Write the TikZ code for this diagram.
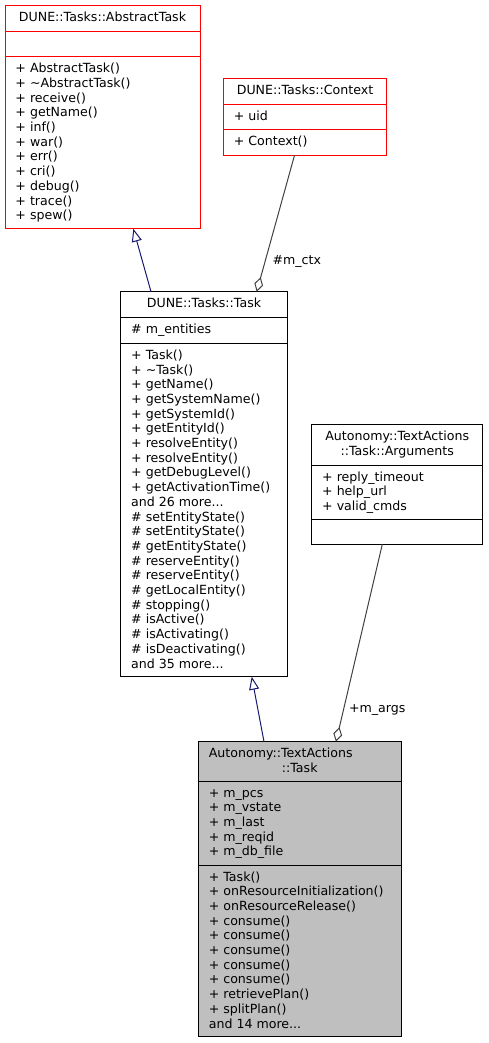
\documentclass[tikz,border=0pt]{standalone}
\usepackage{fontspec}
\setmainfont{DejaVu Sans}
\usetikzlibrary{arrows.meta}
\definecolor{dred}{HTML}{FF0000}
\definecolor{navyblue}{HTML}{191970}
\definecolor{grayedge}{HTML}{404040}
\definecolor{grayfill}{HTML}{BFBFBF}
\begin{document}
\begin{tikzpicture}[x=1pt,y=-1pt,
  every node/.style={inner sep=0pt, outer sep=0pt, font=\fontsize{12.6}{14.7}\selectfont},
  txt/.style={anchor=base west},
  ttl/.style={anchor=base},
  cls/.style={draw, line width=1pt, anchor=north west, rectangle, minimum width=#1},
  redcls/.style={cls=#1, draw=dred},
  divline/.style={line width=1pt},
  inh/.style={draw=navyblue, line width=1pt, -{Triangle[open, length=13pt, width=10pt]}},
  agg/.style={draw=grayedge, line width=1pt, -{Diamond[open, length=15pt, width=9pt]}},
]
\useasboundingbox (0,0) rectangle (488,1043);

% ---------- DUNE::Tasks::AbstractTask ----------
\node[redcls=195pt, minimum height=223pt] (abs) at (5,5.7) {};
\draw[divline, dred] (abs.west |- 0,31.7) -- (abs.east |- 0,31.7);
\draw[divline, dred] (abs.west |- 0,56.7) -- (abs.east |- 0,56.7);
\node[ttl] (abst) at (102.5,21.7) {DUNE::Tasks::AbstractTask};
\foreach \t [count=\i from 0] in {+ AbstractTask(), + \textasciitilde AbstractTask(), + receive(), + getName(), + inf(), + war(), + err(), + cri(), + debug(), + trace(), + spew()}
  \node[txt] (absm\i) at (15.5,72.7+\i*14.7) {\t};

% ---------- DUNE::Tasks::Context ----------
\node[redcls=163.4pt, minimum height=76.3pt] (ctx) at (223.3,79) {};
\draw[divline, dred] (ctx.west |- 0,104.3) -- (ctx.east |- 0,104.3);
\draw[divline, dred] (ctx.west |- 0,130) -- (ctx.east |- 0,130);
\node[ttl] (ctxt) at (305,95) {DUNE::Tasks::Context};
\node[txt] (ctxa) at (233.8,120.3) {+ uid};
\node[txt] (ctxm) at (233.8,146) {+ Context()};

% ---------- DUNE::Tasks::Task ----------
\node[cls=166.6pt, minimum height=385pt] (task) at (120.7,291.7) {};
\draw[divline] (task.west |- 0,317.7) -- (task.east |- 0,317.7);
\draw[divline] (task.west |- 0,343.3) -- (task.east |- 0,343.3);
\node[ttl] (taskt) at (204,307.7) {DUNE::Tasks::Task};
\node[txt] (taska) at (131.2,333.7) {\# m\_entities};
\foreach \t [count=\i from 0] in {+ Task(), + \textasciitilde Task(), + getName(), + getSystemName(), + getSystemId(), + getEntityId(), + resolveEntity(), + resolveEntity(), + getDebugLevel(), + getActivationTime(), and 26 more.{}.., \# setEntityState(), \# setEntityState(), \# getEntityState(), \# reserveEntity(), \# reserveEntity(), \# getLocalEntity(), \# stopping(), \# isActive(), \# isActivating(), \# isDeactivating(), and 35 more.{}..}
  \node[txt] (taskm\i) at (131.2,359.3+\i*14.7) {\t};

% ---------- Autonomy::TextActions::Task::Arguments ----------
\node[cls=171pt, minimum height=120pt] (args) at (311.7,424.3) {};
\draw[divline] (args.west |- 0,465) -- (args.east |- 0,465);
\draw[divline] (args.west |- 0,519) -- (args.east |- 0,519);
\node[ttl] (argst1) at (397.2,440.3) {Autonomy::TextActions};
\node[ttl] (argst2) at (397.2,455) {::Task::Arguments};
\foreach \t [count=\i from 0] in {+ reply\_timeout, + help\_url, + valid\_cmds}
  \node[txt] (argsa\i) at (322.2,481+\i*14.7) {\t};

% ---------- Autonomy::TextActions::Task ----------
\node[cls=202.7pt, minimum height=294.3pt, fill=grayfill] (ta) at (198.3,741.7) {};
\draw[divline] (ta.west |- 0,781) -- (ta.east |- 0,781);
\draw[divline] (ta.west |- 0,865) -- (ta.east |- 0,865);
\node[txt] (tat1) at (208.8,757.7) {Autonomy::TextActions};
\node[ttl] (tat2) at (299.7,772.4) {::Task};
\foreach \t [count=\i from 0] in {+ m\_pcs, + m\_vstate, + m\_last, + m\_reqid, + m\_db\_file}
  \node[txt] (taa\i) at (208.8,797+\i*14.7) {\t};
\foreach \t [count=\i from 0] in {+ Task(), + onResourceInitialization(), + onResourceRelease(), + consume(), + consume(), + consume(), + consume(), + consume(), + retrievePlan(), + splitPlan(), and 14 more.{}..}
  \node[txt] (tam\i) at (208.8,881+\i*14.7) {\t};

% ---------- connectors ----------
\draw[inh] ([xshift=30.3pt]task.north west) -- ([xshift=128.3pt]abs.south west);
\draw[agg] ([xshift=71.2pt]ctx.south west) -- ([xshift=136pt]task.north west);
\node[txt] (lctx) at (272.5,264.5) {\#m\_ctx};
\draw[inh] ([xshift=65.7pt]ta.north west) -- ([xshift=131pt]task.south west);
\draw[agg] ([xshift=70.6pt]args.south west) -- ([xshift=137.7pt]ta.north west);
\node[txt] (largs) at (349,712.3) {+m\_args};
\end{tikzpicture}
\end{document}
